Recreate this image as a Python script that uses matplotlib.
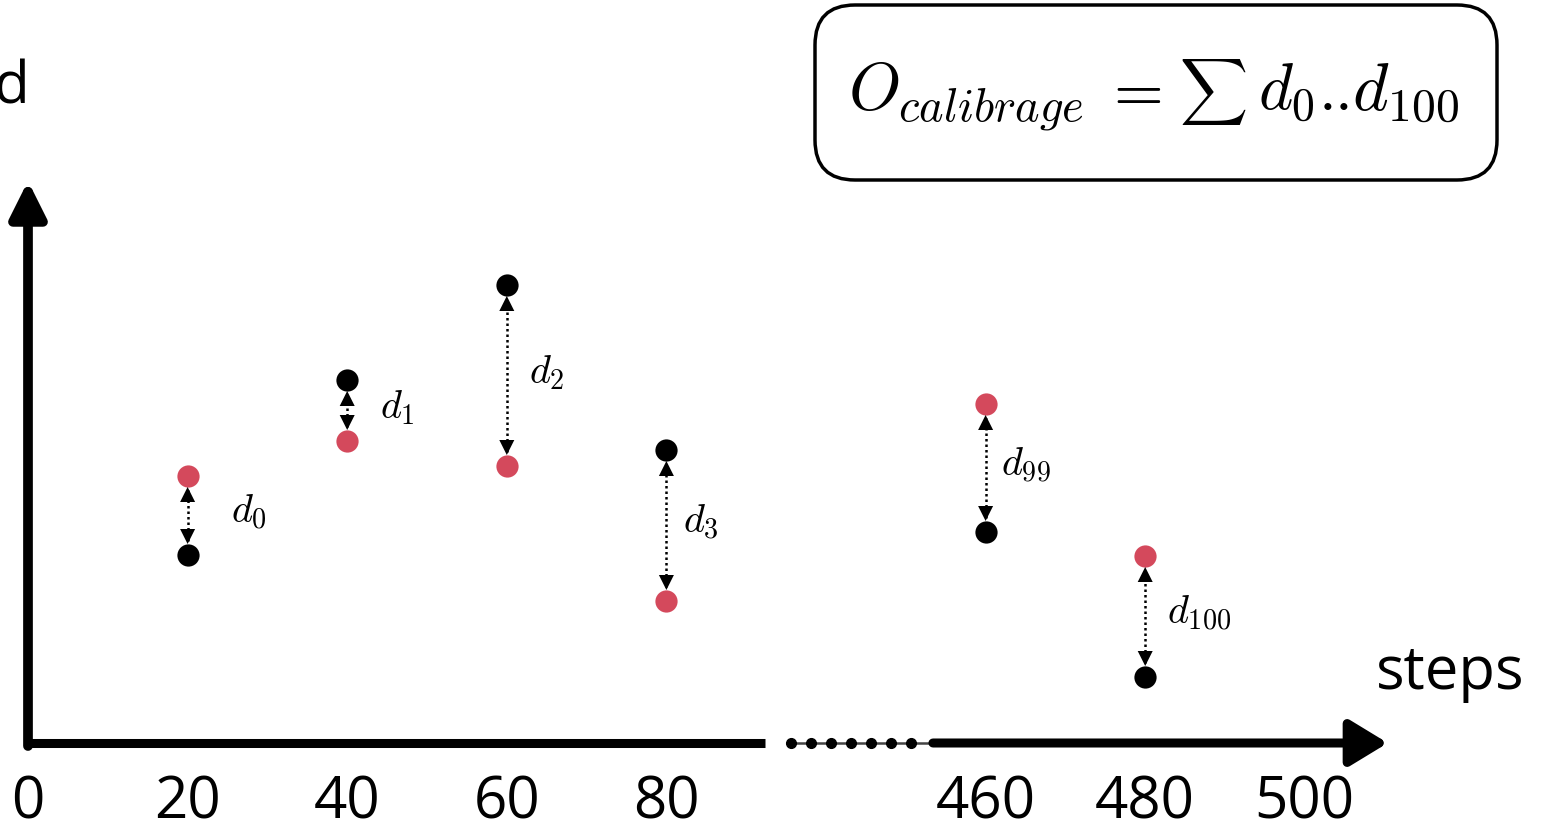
import matplotlib
matplotlib.use('Agg')
import matplotlib.pyplot as plt
from matplotlib.patches import FancyBboxPatch
from matplotlib.transforms import IdentityTransform

plt.rcParams['mathtext.fontset'] = 'cm'
plt.rcParams['font.family'] = ['Open Sans', 'DejaVu Sans']

steps = [20, 40, 60, 80, 460, 480]
measured = [188, 363, 458, 293, 211, 66]
reference = [267, 302, 277, 142, 339, 187]
gap_labels = ['$d_0$', '$d_1$', '$d_2$', '$d_3$', '$d_{99}$', '$d_{100}$']
tick_steps = [0, 20, 40, 60, 80, 460, 480, 500]
break_dots = [4.78, 4.905, 5.03, 5.155, 5.28, 5.405, 5.53]

# label offsets (pixels) to the right of each arrow
label_dx = [43, 33, 22, 17, 15, 22]

RED = '#d4495c'
W, H = 1542, 830


def step_pos(step):
	'Map a step value onto the broken x axis.'
	if step <= 80:
		return step / 20
	return (step - 460) / 20 + 6


fig = plt.figure(figsize=(W / 100, H / 100), dpi=100)
ax = fig.add_axes([0, 0, 1, 1])
ax.set_xlim(-28 / 159.6, (W - 28) / 159.6)
ax.set_ylim(-87, 743)
ax.axis('off')

# axes with arrow heads
ax.annotate('', xy=(0, 562), xytext=(0, -3),
	arrowprops=dict(arrowstyle='-|>,head_length=1.08,head_width=0.54', lw=7, color='black',
		shrinkA=0, shrinkB=0, mutation_scale=20))
ax.plot([-0.02, 4.62], [0, 0], color='black', lw=6.5, solid_capstyle='butt')
ax.annotate('', xy=(8.52, 0), xytext=(5.67, 0),
	arrowprops=dict(arrowstyle='-|>,head_length=1.15,head_width=0.7', lw=6.5, color='black',
		shrinkA=0, shrinkB=0, mutation_scale=20))
ax.plot([4.78, 5.64], [0, 0], color='#444444', lw=1.8)
ax.plot(break_dots, [0] * len(break_dots), 'o', color='black', ms=7)

# double arrows between the two points of each step
for step, m, r, lab, dx in zip(steps, measured, reference, gap_labels, label_dx):
	x = step_pos(step)
	lo, hi = min(m, r), max(m, r)
	ax.plot([x, x], [lo + 14, hi - 14], color='black', lw=1.8, ls=(0, (1, 1.2)))
	ax.annotate('', xy=(x, hi - 11), xytext=(x, hi - 22),
		arrowprops=dict(arrowstyle='-|>,head_length=0.9,head_width=0.45', lw=0, color='black',
			shrinkA=0, shrinkB=0, mutation_scale=12))
	ax.annotate('', xy=(x, lo + 11), xytext=(x, lo + 22),
		arrowprops=dict(arrowstyle='-|>,head_length=0.9,head_width=0.45', lw=0, color='black',
			shrinkA=0, shrinkB=0, mutation_scale=12))
	ax.annotate(lab, xy=(x, (m + r) / 2), xytext=(dx * 0.72, 2), textcoords='offset points',
		fontsize=29, va='center', ha='left')

ax.plot([step_pos(s) for s in steps], reference, 'o', color=RED, ms=16, mec='none')
ax.plot([step_pos(s) for s in steps], measured, 'o', color='black', ms=16, mec='none')

for s in tick_steps:
	ax.text(step_pos(s), -60, str(s), fontsize=42, ha='center', va='center')

ax.text(0.01, 655, 'd', fontsize=42, ha='right', va='center')
ax.text((1450 - 28) / 159.6, 70, 'steps', fontsize=43, ha='center', va='center')

box = FancyBboxPatch((815, H - 180), 682, 175, boxstyle='round,pad=0,rounding_size=40',
	transform=IdentityTransform(), fc='white', ec='black', lw=2.5)
fig.patches.append(box)
base = 1 - 110 / H
fig.text(848 / W, base, r'$O_{calibrage}$', fontsize=48, ha='left', va='baseline')
fig.text(1132 / W, base, r'$=$', fontsize=46, ha='center', va='baseline')
fig.text(1213 / W, 1 - 92 / H, r'$\sum$', fontsize=34, ha='center', va='center')
fig.text(1258 / W, base, r'$d_0$', fontsize=47, ha='left', va='baseline')
fig.text(1325 / W, base, r'$.$', fontsize=46, ha='center', va='baseline')
fig.text(1341 / W, base, r'$.$', fontsize=46, ha='center', va='baseline')
fig.text(1352 / W, base, r'$d_{100}$', fontsize=49, ha='left', va='baseline')

fig.savefig('out.png', dpi=100)
